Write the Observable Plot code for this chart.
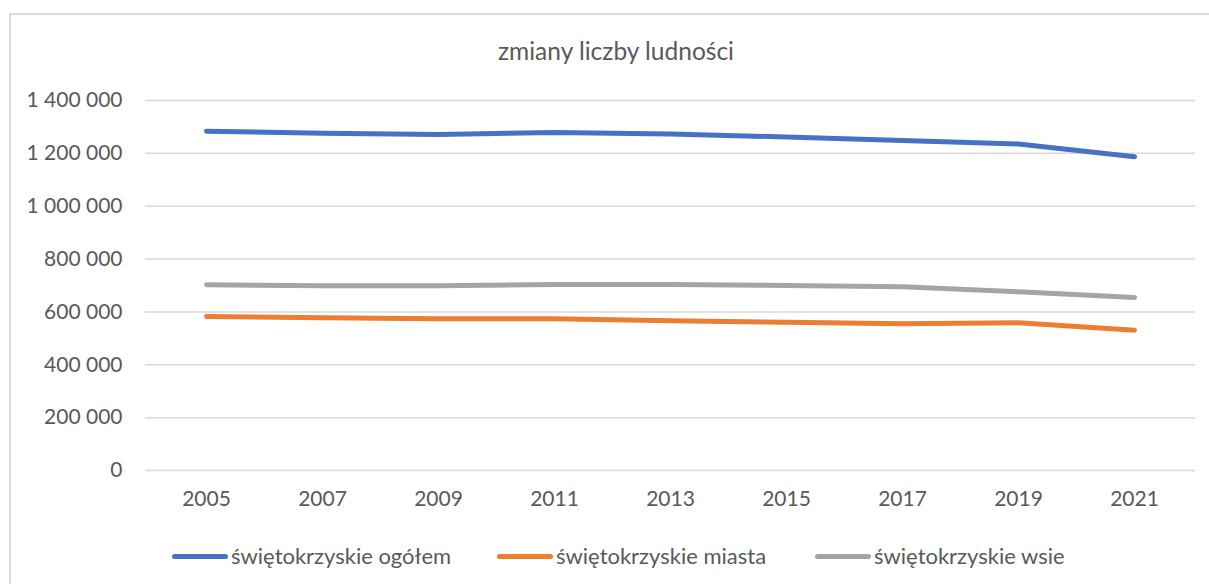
<!DOCTYPE html>
<html>
<head>
<meta charset="utf-8">
<script src="https://cdn.jsdelivr.net/npm/d3@7"></script>
<script src="https://cdn.jsdelivr.net/npm/@observablehq/plot@0.6"></script>
<style>
  html, body { margin: 0; padding: 0; background: #fff; overflow: hidden; }
  body { width: 1209px; height: 584px; position: relative; font-family: Lato, "Open Sans", sans-serif; color: #595959; }
  #frame { position: absolute; left: 9px; top: 13px; width: 1230px; height: 620px; border: 2px solid #d9d9d9; box-sizing: border-box; }
  #title { position: absolute; left: 0; width: 1232px; top: 36px; text-align: center; font-size: 24.5px; line-height: 30px; color: #595959; }
  #chart { position: absolute; left: 0; top: 80px; }
  #legend { position: absolute; left: 172px; top: 542px; display: flex; font-size: 22px; line-height: 28px; color: #595959; }
  .item { display: flex; align-items: center; }
  .swatch { width: 56px; height: 5px; border-radius: 3px; margin-right: 3px; }
</style>
</head>
<body>
<div id="frame"></div>
<div id="title">zmiany liczby ludności</div>
<div id="chart"></div>
<div id="legend"></div>
<script>
const years = ["2005", "2007", "2009", "2011", "2013", "2015", "2017", "2019", "2021"];
const seriesNames = ["świętokrzyskie ogółem", "świętokrzyskie miasta", "świętokrzyskie wsie"];
const ogolem = [1284000, 1276000, 1271000, 1279000, 1273000, 1262000, 1249000, 1235000, 1187000];
const miasta = [583000, 578000, 574000, 574000, 567000, 561000, 555000, 559000, 531000];
const wsie   = [703000, 699000, 699000, 704000, 704000, 700000, 695000, 676000, 655000];
const colors = ["#4472C4", "#ED7D31", "#A5A5A5"];
const yTicks = [0, 200000, 400000, 600000, 800000, 1000000, 1200000, 1400000];
const legendItemWidths = [325, 318, null];

const allValues = [ogolem, miasta, wsie];
const rows = [];
seriesNames.forEach((s, i) => years.forEach((y, j) => rows.push({series: s, year: y, value: allValues[i][j]})));

const fmt = d3.formatLocale({decimal: ",", thousands: " ", grouping: [3], currency: ["", ""]}).format(",d");

const plot = Plot.plot({
  width: 1209,
  height: 440,
  marginTop: 20,
  marginBottom: 50,
  marginLeft: 145,
  marginRight: 14,
  style: {fontFamily: "Lato, 'Open Sans', sans-serif", fontSize: "21px", color: "#595959", background: "transparent", overflow: "visible"},
  x: {type: "point", domain: years, padding: 0.5, label: null},
  y: {domain: [0, 1400000], label: null},
  color: {domain: seriesNames, range: colors},
  marks: [
    Plot.gridY(yTicks, {stroke: "#d9d9d9", strokeOpacity: 1, strokeWidth: 1.5}),
    Plot.axisY(yTicks, {tickSize: 0, tickPadding: 23, tickFormat: fmt, fill: "#595959", label: null}),
    Plot.axisX({tickSize: 0, tickPadding: 21, fill: "#595959", label: null}),
    Plot.line(rows, {x: "year", y: "value", z: "series", stroke: "series", strokeWidth: 5, strokeLinecap: "round", strokeLinejoin: "round"})
  ]
});
document.getElementById("chart").appendChild(plot);

const legend = document.getElementById("legend");
seriesNames.forEach((s, i) => {
  const item = document.createElement("div");
  item.className = "item";
  if (legendItemWidths[i]) item.style.width = legendItemWidths[i] + "px";
  const sw = document.createElement("div");
  sw.className = "swatch";
  sw.style.background = colors[i];
  const t = document.createElement("span");
  t.textContent = s;
  item.appendChild(sw);
  item.appendChild(t);
  legend.appendChild(item);
});
</script>
</body>
</html>
